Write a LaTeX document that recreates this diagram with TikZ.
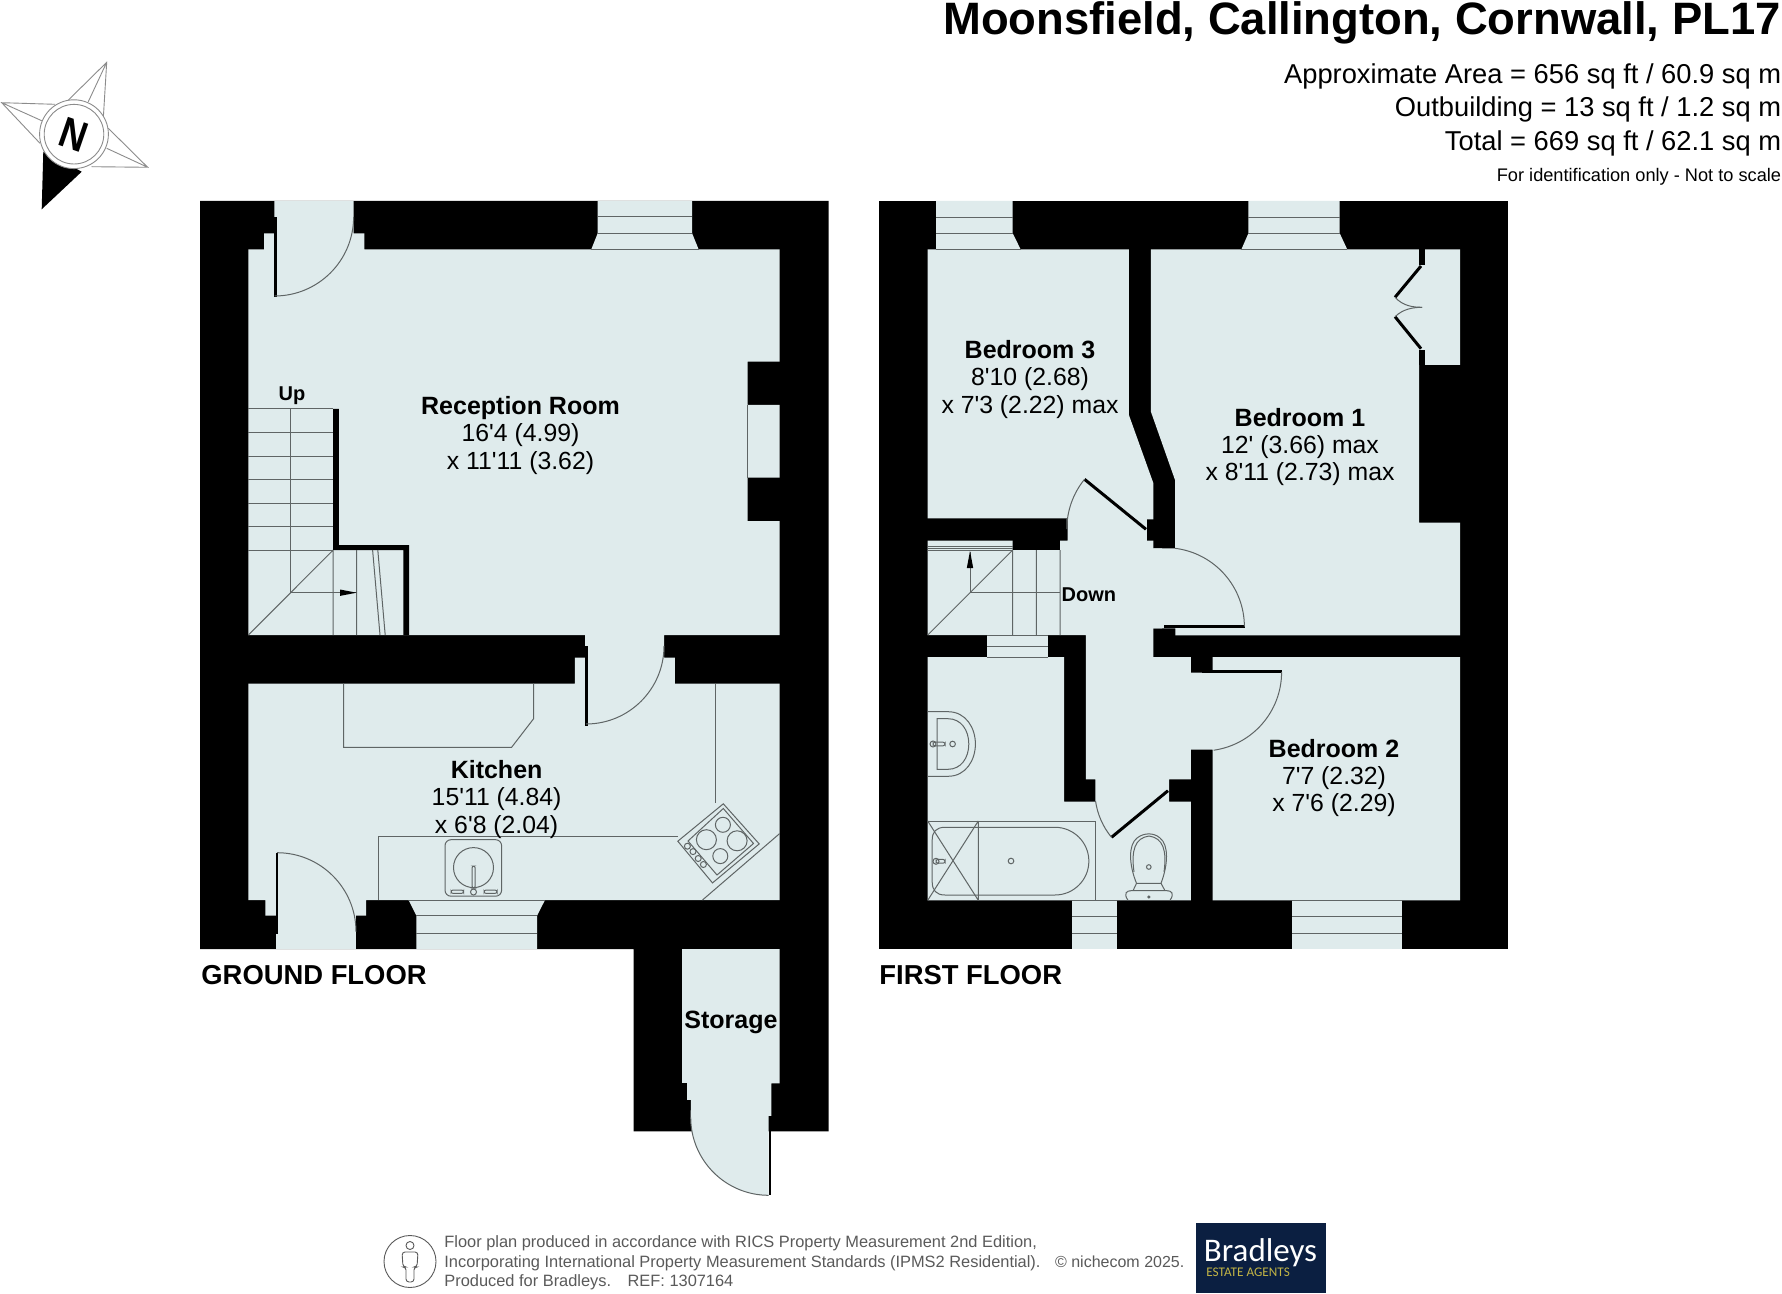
\documentclass[tikz,border=0pt]{standalone}
\usepackage{fontspec}
\usepackage{graphicx}
\setmainfont{Liberation Sans}
\newfontfamily\plainf{Liberation Sans}
\newfontfamily\logofont{Carlito}
\definecolor{roomc}{HTML}{DFEBEC}
\definecolor{linec}{HTML}{5F6565}
\definecolor{footc}{HTML}{5A5A5A}
\definecolor{navyc}{HTML}{0B1F41}
\definecolor{goldc}{HTML}{C2B445}
\tikzset{
  wallfill/.style={fill=black,draw=none},
  roomfill/.style={fill=roomc,draw=none},
  gl/.style={draw=linec,line width=0.5pt},
  leaf/.style={draw=black,line width=1.5pt},
  dimtext/.style={align=center,inner sep=0pt,font=\plainf\fontsize{12.4}{13.65}\selectfont},
  btext/.style={inner sep=0pt,font=\fontsize{10}{11}\selectfont\bfseries},
  ftext/.style={inner sep=0pt,font=\fontsize{13.7}{15}\selectfont\bfseries,anchor=west},
  hdr/.style={inner sep=0pt,anchor=east,font=\fontsize{13.65}{15}\selectfont},
  compassline/.style={draw=black!45,line width=0.45pt},
}
\newcommand{\rtitle}[1]{{\fontsize{12.5}{13.65}\selectfont\bfseries #1}}
\begin{document}
\begin{tikzpicture}[x=0.5pt,y=-0.5pt]
\useasboundingbox (0,0) rectangle (1782,1294);
\fill[white] (0,0) rectangle (1782,1294);

% ---------- GROUND FLOOR ----------
\path[wallfill] (200,201)--(828.5,201)--(828.5,1131.3)--(633.7,1131.3)--(633.7,949)--(200,949)--cycle;
\path[roomfill] (274.4,201)--(353.6,201)--(353.6,233.3)--(364.4,233.3)--(364.4,249.3)--(779.6,249.3)--(779.6,361.7)--(747.5,361.7)--(747.5,405)--(779.6,405)--(779.6,477.7)--(747.5,477.7)--(747.5,521)--(779.6,521)--(779.6,635)--(664,635)--(664,657.5)--(674.8,657.5)--(674.8,683.5)--(779.6,683.5)--(779.6,900)--(366.1,900)--(366.1,915.7)--(355.8,915.7)--(355.8,949)--(276,949)--(276,915.7)--(265.3,915.7)--(265.3,900)--(248.4,900)--(248.4,683.5)--(574.8,683.5)--(574.8,657.5)--(585.2,657.5)--(585.2,635)--(248.4,635)--(248.4,249.3)--(264,249.3)--(264,233.3)--(274.4,233.3)--cycle;
% windows
\path[roomfill] (597.7,201)--(692.1,201)--(692.1,233.3)--(698.6,249.3)--(591.3,249.3)--(597.7,233.3)--cycle;
\draw[gl] (597.7,216.7)--(692.1,216.7) (597.7,233.3)--(692.1,233.3) (591.3,249.3)--(698.6,249.3);
\path[roomfill] (416.4,949)--(537.1,949)--(537.1,915.7)--(545,900)--(408.6,900)--(416.4,915.7)--cycle;
\draw[gl] (416.4,915.7)--(537.1,915.7) (416.4,933)--(537.1,933) (408.6,900)--(545,900);
\draw[gl] (747.5,405)--(747.5,477.7);
% stairs wall
\path[wallfill] (333.2,409)--(338.9,409)--(338.9,545)--(409,545)--(409,635)--(403.4,635)--(403.4,550)--(333.2,550)--cycle;
\draw[gl] (248.4,409)--(333.2,409) (248.4,432.7)--(333.2,432.7) (248.4,456)--(333.2,456) (248.4,479.7)--(333.2,479.7) (248.4,503.3)--(333.2,503.3) (248.4,526.7)--(333.2,526.7) (248.4,550)--(333.2,550);
\draw[gl] (290.8,409)--(290.8,592.7)--(356.6,592.7);
\draw[gl] (333.2,550)--(248.4,635) (333.2,550)--(333.2,635) (356.6,550)--(356.6,635) (372.6,550)--(380,635) (377.8,550)--(385.2,635);
\path[fill=black] (356.6,592.7)--(340,589.5)--(340,595.9)--cycle;
% entry door
\path[wallfill] (274.4,216.7) rectangle (277,297);
\draw[gl] (353.6,217) arc[start angle=0,end angle=90,radius=79];
% inner door
\path[wallfill] (585.2,646) rectangle (587.6,726);
\draw[gl] (664,646) arc[start angle=0,end angle=90,radius=78];
% back door
\path[wallfill] (276,852.7) rectangle (278.4,933.7);
\draw[gl] (277,852.7) arc[start angle=-90,end angle=0,radius=79];
% kitchen units
\draw[gl] (343.6,683.5)--(343.6,747.3)--(511.6,747.3)--(533.7,718.6)--(533.7,683.5);
\draw[gl] (715.5,683.5)--(715.5,802.7);
\draw[gl] (378.3,900)--(378.3,836.6)--(677.8,836.6);
\draw[gl] (779.6,833.6)--(702.5,900);
% cooker
\draw[gl] (723.3,803.8)--(759.2,843.9)--(712.5,882.9)--(677.8,841.2)--cycle;
\draw[gl] (723.3,808.5)--(753.5,843.5)--(717,875)--(688,841)--cycle;
\foreach \cx/\cy/\cr in {722.9/824.8/7.5,737.1/840.8/10,720.3/856.1/7.5,706.4/839.7/10,687.4/846.2/3,693/851.6/3,698.2/858.5/3,703.4/864.5/3}
  \draw[gl] (\cx,\cy) circle[radius=\cr];
% sink
\draw[gl,rounded corners=3pt] (445,839.7) rectangle (501.6,896.2);
\draw[gl] (473.5,867.6) circle[radius=20];
\draw[gl,rounded corners=1pt] (472,866) rectangle (475.2,888);
\draw[gl] (473.5,892) circle[radius=3];
\draw[gl,rounded corners=1pt] (451,890) rectangle (463.5,893.4);
\draw[gl,rounded corners=1pt] (484,890) rectangle (497,893.4);
% storage
\path[roomfill] (682.2,949)--(779.6,949)--(779.6,1083.4)--(771.4,1083.4)--(771.4,1115.9)--(768.7,1115.9)--(768.7,1195.3) arc[start angle=90,end angle=180,radius=78]--(690.8,1099.8)--(687.4,1099.8)--(682.2,1099.8)--(682.2,1083.4)--cycle;
\path[wallfill] (682.2,1083.4) rectangle (687.4,1099.8);
\path[wallfill] (768.7,1115.9) rectangle (771.4,1195.3);
\draw[gl] (768.7,1195.3) arc[start angle=90,end angle=180,radius=78];

% ---------- FIRST FLOOR ----------
\path[wallfill] (879,201) rectangle (1508,949);
\path[roomfill] (927.7,249.3)--(1128.9,249.3)--(1128.9,415)--(1153.4,483.3)--(1153.4,519.3)--(1146.8,519.3)--(1146.8,540.7)--(1153.4,540.7)--(1153.4,548.3)--(1162,548.3)--(1162,628.3)--(1153.4,628.3)--(1153.4,657)--(1190.8,657)--(1190.8,779.3)--(1169.2,779.3)--(1169.2,801.7)--(1190.8,801.7)--(1190.8,900.3)--(927.7,900.3)--(927.7,657)--(1064.2,657)--(1064.2,801.7)--(1095.3,801.7)--(1095.3,779.3)--(1085.8,779.3)--(1085.8,635)--(927.7,635)--(927.7,540.7)--(1012.7,540.7)--(1012.7,550)--(1060,550)--(1060,540.7)--(1067.5,540.7)--(1067.5,518.3)--(927.7,518.3)--cycle;
\path[roomfill] (1150.9,249.3)--(1460,249.3)--(1460,365)--(1419,365)--(1419,522.7)--(1460,522.7)--(1460,635.3)--(1175.4,635.3)--(1175.4,628.3)--(1153.4,628.3)--(1153.4,548.3)--(1175,548.3)--(1175,480)--(1150.9,411.7)--cycle;
\path[roomfill] (1212.7,657)--(1460,657)--(1460,900.3)--(1212.7,900.3)--(1212.7,749.7)--(1184,749.7)--(1184,672.7)--(1202,672.7)--(1202,670)--(1212.7,670)--cycle;
% first floor windows
\path[roomfill] (936,201)--(1012.7,201)--(1012.7,233.3)--(1020.6,249.3)--(936,249.3)--cycle;
\draw[gl] (936,217.3)--(1012.7,217.3) (936,233.3)--(1012.7,233.3) (936,249.3)--(1020.6,249.3);
\path[roomfill] (1248.4,201)--(1339.7,201)--(1339.7,233.3)--(1347.2,249.3)--(1241.4,249.3)--(1248.4,233.3)--cycle;
\draw[gl] (1248.4,217.3)--(1339.7,217.3) (1248.4,233.3)--(1339.7,233.3) (1241.4,249.3)--(1347.2,249.3);
\path[roomfill] (987.4,635) rectangle (1048.4,657);
\draw[gl] (987.4,635)--(1048.4,635) (987.4,646)--(1048.4,646) (987.4,657)--(1048.4,657);
\path[roomfill] (1071.7,899) rectangle (1117.3,949);
\draw[gl] (1071.7,900.3)--(1117.3,900.3) (1071.7,916.7)--(1117.3,916.7) (1071.7,933.3)--(1117.3,933.3);
\path[roomfill] (1292,899) rectangle (1401.5,949);
\draw[gl] (1292,900.3)--(1401.5,900.3) (1292,916.7)--(1401.5,916.7) (1292,933.3)--(1401.5,933.3);
% first floor stairs
\draw[gl] (927.7,546)--(1012.7,546) (927.7,548)--(1012.7,548) (927.7,550)--(1012.7,550);
\draw[gl] (1012.7,550)--(927.7,635) (1012.7,550)--(1012.7,635) (1036.4,550)--(1036.4,635) (1060,550)--(1060,635);
\draw[gl] (970,552)--(970,592.7)--(1060,592.7);
\path[fill=black] (970,551)--(966.8,568)--(973.2,568)--cycle;
% doors
\draw[leaf] (1084.5,479.3)--(1146,529.3);
\draw[gl] (1084.5,479.3) arc[start angle=-140.9,end angle=-180,radius=79]--(1067,518.3);
\draw[leaf] (1164.2,626.7)--(1244.7,626.7);
\draw[gl] (1175,548.3) arc[start angle=-83,end angle=0,radius=79];
\draw[leaf] (1202,671.4)--(1281.6,671.4);
\draw[gl] (1281.6,672) arc[start angle=0,end angle=82,radius=79];
\draw[leaf] (1168,790.7)--(1111.5,837.3);
\draw[gl] (1111.5,837.3) arc[start angle=140.5,end angle=172,radius=73];
% wardrobe
\path[wallfill] (1419,249.3) rectangle (1424.8,265);
\path[wallfill] (1419,350) rectangle (1424.8,365);
\draw[leaf] (1421,266)--(1395,297.3);
\draw[leaf] (1421,348.7)--(1395,316.7);
\draw[gl] (1395,297.3) .. controls (1403,306) and (1413,307.3) .. (1422,307.3);
\draw[gl] (1395,316.7) .. controls (1403,309) and (1413,307.3) .. (1422,307.3);
% bath
\draw[gl] (1095.3,900.3)--(1095.3,821)--(927.7,821);
\draw[gl] (978.3,821)--(978.3,900.3) (927.7,821)--(978.3,900.3) (978.3,821)--(927.7,900.3);
\draw[gl] (945,827.3)--(1055,827.3) arc[start angle=-90,end angle=90,radius=33.85]--(945,895) .. controls (936,895) and (932.2,890) .. (932.2,882)--(932.2,840) .. controls (932.2,832) and (936,827.3) .. (945,827.3);
\draw[gl] (936,861.3) circle[radius=3];
\draw[gl,rounded corners=1pt] (936,859.4) rectangle (945,863.2);
\draw[gl] (1011,861) circle[radius=2.8];
% basin
\draw[gl] (927.7,711.7)--(948,711.7) .. controls (966,711.7) and (975.4,728) .. (975.4,744) .. controls (975.4,760) and (966,776.3) .. (948,776.3)--(927.7,776.3);
\draw[gl] (937.2,718.7)--(948,718.7) .. controls (961,718.7) and (968.8,730) .. (968.8,744) .. controls (968.8,758) and (961,769.3) .. (948,769.3)--(937.2,769.3)--cycle;
\draw[gl] (933,744) circle[radius=3];
\draw[gl,rounded corners=1pt] (933,742.2) rectangle (945,745.8);
\draw[gl] (952.6,744) circle[radius=2.8];
% toilet
\draw[gl] (1136.5,883.3) .. controls (1129,865) and (1128,845) .. (1137,838) .. controls (1144,832.5) and (1154,832.5) .. (1160,838) .. controls (1169,845) and (1168,865) .. (1161,883.3)--cycle;
\draw[gl] (1134,872) .. controls (1131,850) and (1135,838) .. (1149,836);
\draw[gl] (1164,872) .. controls (1167,850) and (1163,838) .. (1149,836);
\draw[gl] (1136.5,883.3)--(1133,890.7) (1161,883.3)--(1165,890.7);
\draw[gl] (1128,900.3) .. controls (1123,893) and (1127,890.7) .. (1131,890.7)--(1167,890.7) .. controls (1171,890.7) and (1175,893) .. (1170,900.3);
\draw[gl] (1148.8,867) circle[radius=2.3];
\draw[gl] (1148.8,897) circle[radius=1];

% ---------- LABELS ----------
\node[dimtext] (recep) at (520.5,435.5) {\rtitle{Reception Room}\\16'4 (4.99)\\x 11'11 (3.62)};
\node[dimtext] (kitch) at (496.6,799.5) {\rtitle{Kitchen}\\15'11 (4.84)\\x 6'8 (2.04)};
\node[dimtext] (bed3) at (1030,379.5) {\rtitle{Bedroom 3}\\8'10 (2.68)\\x 7'3 (2.22) max};
\node[dimtext] (bed1) at (1300,447) {\rtitle{Bedroom 1}\\12' (3.66) max\\x 8'11 (2.73) max};
\node[dimtext] (bed2) at (1334,778) {\rtitle{Bedroom 2}\\7'7 (2.32)\\x 7'6 (2.29)};
\node[inner sep=0pt,font=\fontsize{12.5}{13}\selectfont\bfseries] (stor) at (731,1022.5) {Storage};
\node[btext] (uplab) at (292,396) {Up};
\node[btext] (downlab) at (1088.8,594.4) {Down};
\node[ftext] (gf) at (201,975.5) {GROUND FLOOR};
\node[ftext] (ff) at (879,975.5) {FIRST FLOOR};

% ---------- HEADER ----------
\node[hdr,font=\fontsize{22.7}{24}\selectfont\bfseries] (title) at (1781,22.5) {Moonsfield, Callington, Cornwall, PL17};
\node[hdr] (h1) at (1781.5,76) {Approximate Area = 656 sq ft / 60.9 sq m};
\node[hdr] (h2) at (1781.5,109.5) {Outbuilding = 13 sq ft / 1.2 sq m};
\node[hdr] (h3) at (1781.5,143) {Total = 669 sq ft / 62.1 sq m};
\node[hdr,font=\fontsize{9.1}{10}\selectfont] (h4) at (1781.5,176.5) {For identification only - Not to scale};

% ---------- COMPASS ----------
\draw[compassline] (66.7,101.7)--(106.7,62.3)--(103.3,118.3) (106.7,62.3)--(88.3,101.7);
\draw[compassline] (108.3,128.3)--(147.7,167.3)--(91.7,166.7) (147.7,167.3)--(106.7,148.3);
\draw[compassline] (55,104.3)--(1.7,102.7)--(40,143.3) (1.7,102.7)--(41.7,120.7);
\path[fill=black] (43.3,151.7)--(41.7,209.3)--(81.7,171.7)--(60,160)--cycle;
\draw[compassline,fill=white] (74,134.2) circle[radius=34.4];
\draw[compassline] (74,134.2) circle[radius=29.8];
\node[rotate=-19,inner sep=0pt,font=\fontsize{21.5}{21.5}\selectfont\bfseries] (north) at (74,135) {\scalebox{0.85}[1]{N}};

% ---------- FOOTER ----------
\draw[draw=footc,line width=0.45pt] (410,1261.5) circle[radius=26];
\draw[draw=footc,line width=0.45pt] (410,1245.5) circle[radius=4];
\draw[draw=footc,line width=0.45pt,rounded corners=1.5pt] (402,1252)--(418,1252)--(417,1267)--(414,1267)--(414,1282)--(406,1282)--(406,1267)--(403,1267)--cycle;
\node[inner sep=0pt,anchor=north west,align=left,text=footc,font=\fontsize{8.2}{9.75}\selectfont] (foot) at (444,1235.5) {Floor plan produced in accordance with RICS Property Measurement 2nd Edition,\\Incorporating International Property Measurement Standards (IPMS2 Residential).\\Produced for Bradleys.\hspace{1em}REF: 1307164};
\node[inner sep=0pt,anchor=west,text=footc,font=\fontsize{8.0}{9}\selectfont] (copyr) at (1054.7,1262) {© nichecom 2025.};
\path[fill=navyc] (1195.6,1222.9) rectangle (1326.3,1293.4);
\node[inner sep=0pt,text=white,font=\logofont\fontsize{16.5}{17}\selectfont] (logo) at (1260.5,1253) {Bradleys};
\node[inner sep=0pt,anchor=west,text=goldc,font=\logofont\fontsize{6.6}{7}\selectfont] (logosub) at (1206,1272) {ESTATE AGENTS};
\end{tikzpicture}
\end{document}
